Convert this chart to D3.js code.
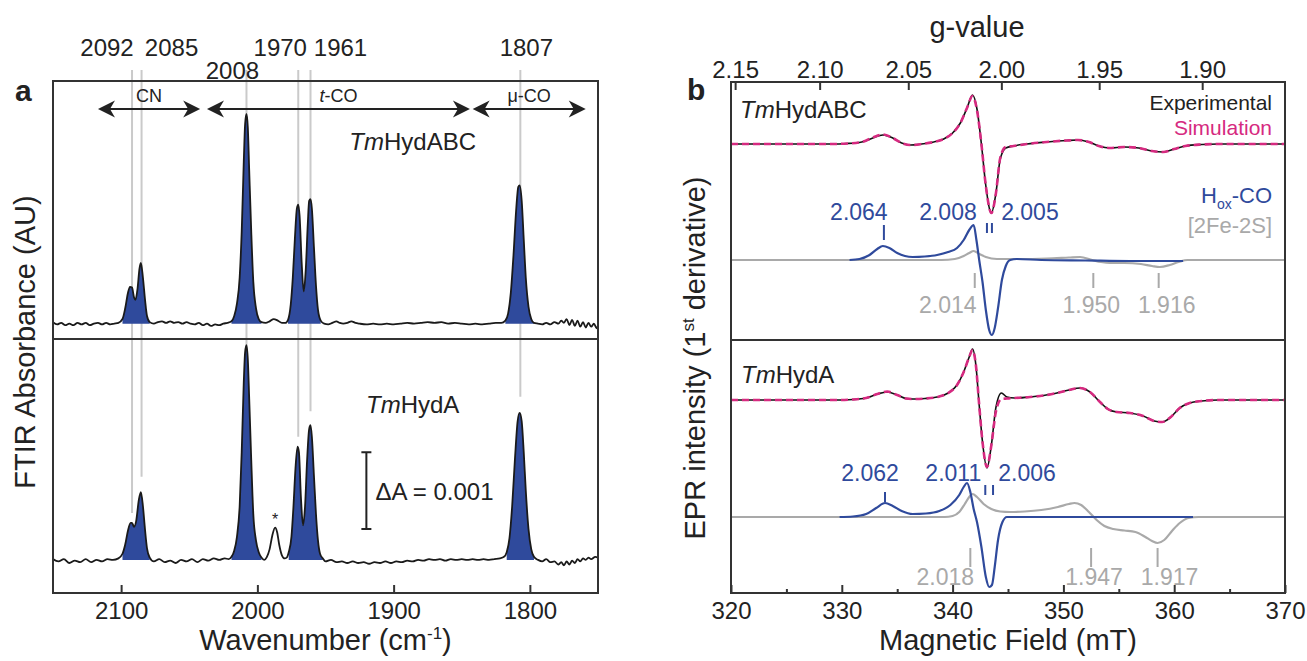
<!DOCTYPE html>
<html>
<head>
<meta charset="utf-8">
<script src="https://cdn.jsdelivr.net/npm/d3@7"></script>
<style>
body { margin: 0; background: #fff; }
text { font-family: "Liberation Sans", Arial, sans-serif; fill: #222; }
</style>
</head>
<body>
<div id="chart"></div>
<script>

// ---------- panel a : FTIR, [wavenumber cm-1, absorbance AU above baseline] ----------
var ftirAbc = [
  [2150,0.00002],[2147,-0.00001],[2144,0.00001],[2141,-0.00002],[2138,0],[2135,-0.00002],[2132,0.00001],
  [2129,-0.00001],[2126,0.00001],[2123,-0.00002],[2120,0],[2117,0.00001],[2114,-0.00001],[2111,0.00001],
  [2108,-0.00001],[2105,0],[2102,0.00001],
  [2099,0.00006],[2097,0.0002],[2095,0.0004],[2093.5,0.00048],[2092,0.00047],[2090.5,0.00034],[2089.5,0.00031],
  [2088,0.00045],[2086.5,0.00072],[2085.5,0.00079],[2084,0.0006],[2082.5,0.00032],[2081,0.0001],[2079,0.00002],
  [2076,0],[2073,0.00002],[2070,0.00003],[2067,0.00001],[2064,0.00003],[2061,0.00001],[2058,0.00002],[2055,0],
  [2052,0.00002],[2049,0],[2046,-0.00001],[2043,0.00001],[2040,-0.00002],[2037,0],[2034,-0.00003],[2031,-0.00001],
  [2028,-0.00002],[2025,0],[2022,0.00001],
  [2019,0.00003],[2017,0.0001],[2015,0.00026],[2013,0.0006],[2011.5,0.0012],[2010,0.0021],[2009,0.0026],
  [2008,0.00273],[2007,0.00255],[2006,0.002],[2004.5,0.0012],[2003,0.00055],[2001,0.0002],[1999,0.00006],[1997,0.00002],
  [1994,0.00001],[1991,0.00003],[1988,0.00006],[1985,0.00004],[1982,0.00001],[1979.5,0.00001],
  [1977.5,0.00005],[1975.5,0.00025],[1974,0.0006],[1972.5,0.0011],[1971,0.0015],[1970,0.00155],[1969,0.0014],
  [1967.5,0.0008],[1966,0.00042],[1964.5,0.0007],[1963,0.0013],[1962,0.0016],[1961,0.00162],[1960,0.0015],
  [1958.5,0.001],[1957,0.0005],[1955.5,0.00018],[1953.5,0.00004],[1951,0],
  [1948,-0.00001],[1945,0.00001],[1942,0.00003],[1939.5,0.00001],[1937,0],[1934,0.00001],[1931,0.00003],[1928,0.00001],
  [1925,0],[1920,-0.00001],[1915,0],[1910,-0.00001],[1905,0],[1900,-0.00001],[1895,0],[1890,0.00001],[1885,0],
  [1880,0.00001],[1875,0.00002],[1870,0.00001],[1865,0.00002],[1860,0],[1855,0.00001],[1850,0],[1845,-0.00001],
  [1840,0],[1835,-0.00001],[1830,0],[1825,0.00001],[1821,0.00001],
  [1818,0.00004],[1816,0.00013],[1814,0.0004],[1812,0.0009],[1810,0.0015],[1808.5,0.00178],[1807.5,0.0018],
  [1806,0.0016],[1804.5,0.0011],[1803,0.0006],[1801,0.00022],[1799,0.00006],[1797,0.00001],
  [1794,0],[1791,-0.00001],[1788,0.00001],[1785,-0.00001],[1782,0.00002],[1779,0],[1777,0.00004],[1775,0.00001],
  [1773,0.00006],[1771,-0.00002],[1769,0.00005],[1767,-0.00003],[1765,0.00004],[1763,-0.00004],[1761,0.00002],
  [1759,-0.00005],[1757,0.00001],[1755,-0.00004],[1753,0],[1751,-0.00006],[1750,-0.00003]
];

var ftirA = [
  [2150,0.00001],[2146,-0.00002],[2142,0.00001],[2138,-0.00004],[2134,-0.00001],[2130,-0.00003],[2126,0.00001],
  [2122,-0.00003],[2118,0],[2114,-0.00002],[2110,0.00001],[2106,0],[2102,0.00002],
  [2099,0.00008],[2097,0.0002],[2095,0.00038],[2093,0.00048],[2092,0.00048],[2090.5,0.00043],[2089,0.0005],
  [2087,0.00078],[2085.5,0.00088],[2084,0.0007],[2082.5,0.0004],[2081,0.00015],[2079,0.00003],
  [2076,-0.00002],[2072,0.00001],[2068,-0.00003],[2064,-0.00001],[2060,-0.00004],[2056,0],[2052,-0.00002],
  [2048,0.00001],[2044,-0.00003],[2040,0.00001],[2036,-0.00001],[2032,0.00002],[2028,0],[2024,0.00002],[2021,0.00001],
  [2019,0.00004],[2017,0.00012],[2015,0.0003],[2013,0.0007],[2011.5,0.0014],[2010,0.0023],[2009,0.0027],
  [2008,0.00279],[2007,0.0026],[2006,0.0021],[2004.5,0.0013],[2003,0.0006],[2001,0.00025],[1999,0.0001],[1997,0.00003],
  [1995,0],[1993,0.00004],[1991,0.00014],[1989,0.00032],[1987,0.00042],[1985.5,0.00036],[1984,0.0002],
  [1982,0.00006],[1980,0.00002],[1978.5,0.00003],
  [1977,0.0001],[1975,0.0003],[1973.5,0.0007],[1972,0.0012],[1970.5,0.00147],[1969.5,0.0014],[1968,0.0008],
  [1966.5,0.00045],[1965,0.0007],[1963.5,0.0013],[1962,0.0017],[1961,0.00175],[1960,0.0016],[1958.5,0.0011],
  [1957,0.0006],[1955.5,0.00025],[1954,0.00008],[1952,0.00002],
  [1950,-0.00002],[1946,0],[1942,-0.00003],[1938,-0.00002],[1934,-0.00004],[1930,-0.00002],[1926,-0.00004],
  [1922,-0.00003],[1918,-0.00005],[1914,-0.00003],[1910,-0.00004],[1906,-0.00002],[1902,-0.00004],[1898,-0.00002],
  [1894,-0.00003],[1890,-0.00001],[1886,-0.00002],[1882,0],[1878,-0.00001],[1874,0.00001],[1870,0],[1866,0.00001],
  [1862,-0.00001],[1858,0.00001],[1854,0],[1850,0.00001],[1846,0],[1842,0.00001],[1838,0],[1834,0.00001],
  [1830,0],[1826,0.00001],[1822,0.00002],[1819,0.00004],
  [1817,0.0001],[1815,0.00028],[1813,0.0007],[1811,0.0013],[1809,0.0018],[1807.5,0.00191],[1806,0.0018],
  [1804.5,0.0014],[1803,0.0009],[1801,0.0004],[1799,0.00014],[1797,0.00004],
  [1794,0],[1791,-0.00002],[1788,0.00001],[1785,-0.00003],[1782,-0.00002],[1779,-0.00006],[1777,-0.00003],
  [1775,-0.00007],[1773,-0.00002],[1771,-0.00006],[1769,-0.00001],[1767,-0.00004],[1765,0.00001],[1763,-0.00002],
  [1761,0.00002],[1759,0],[1757,0.00003],[1755,0.00001],[1752,0.00004],[1750,0.00003]
];

var ftirFillRanges = [[2099, 2079], [2019, 1997], [1977.5, 1952], [1818, 1796]];
var ftirBandMarks = [2092, 2085, 2008, 1970, 1961, 1807];
var ftirBands = [
  { label: 'CN', from: 2117, to: 2042 },
  { label: 't-CO', from: 2037, to: 1844 },
  { label: '\u03bc-CO', from: 1842, to: 1759 }
];
var ftirTicks = [2100, 2000, 1900, 1800];
var ftirStarPeak = 1987;

// ---------- panel b : EPR, [field mT, intensity a.u. above its baseline] ----------
var eprAbcExp = [
  [320,0],[325,0],[329,0],[330.5,0.005],[331.8,0.02],[332.8,0.06],[333.7,0.09],[334.6,0.06],[335.4,0.01],
  [336.2,-0.01],[337.2,0],[338.3,0.02],[339.2,0.05],[340,0.11],[340.7,0.21],[341.3,0.36],[341.8,0.49],
  [342.2,0.35],[342.6,0],[343,-0.42],[343.5,-0.69],[343.9,-0.5],[344.3,-0.15],[344.8,-0.04],[345.5,-0.02],
  [346.7,0],[348.5,0.02],[350.3,0.035],[351.3,0.04],[352.3,0.02],[353.2,-0.02],[354.2,-0.04],[355.5,-0.03],
  [356.8,-0.04],[358,-0.07],[359,-0.08],[360,-0.05],[361,-0.02],[362.5,-0.005],[364,0],[370,0]
];
var eprAbcSim = [
  [320,0],[325,0],[329,0],[330.5,0.005],[331.8,0.02],[332.8,0.065],[333.7,0.095],[334.6,0.06],[335.4,0.01],
  [336.2,-0.01],[337.2,0],[338.3,0.02],[339.2,0.05],[340,0.11],[340.7,0.21],[341.3,0.36],[341.8,0.48],
  [342.2,0.34],[342.6,0],[343,-0.42],[343.5,-0.69],[343.9,-0.5],[344.3,-0.14],[344.8,-0.03],[345.5,-0.02],
  [346.7,0],[348.5,0.02],[350.3,0.035],[351.3,0.04],[352.3,0.02],[353.2,-0.02],[354.2,-0.04],[355.5,-0.03],
  [356.8,-0.04],[358,-0.07],[359,-0.08],[360,-0.05],[361,-0.02],[362.5,-0.005],[364,0],[370,0]
];
var eprAbcHox = [
  [330.7,0],[331.6,0.01],[332.5,0.05],[333.2,0.11],[333.7,0.14],[334.3,0.12],[335,0.07],[335.7,0.04],
  [336.4,0.03],[337.5,0.035],[338.6,0.05],[339.6,0.08],[340.4,0.12],[341,0.2],[341.5,0.3],[341.9,0.35],
  [342.15,0.2],[342.4,0],[342.7,-0.22],[343,-0.5],[343.3,-0.7],[343.55,-0.75],[343.8,-0.68],[344.1,-0.48],
  [344.45,-0.2],[344.8,-0.06],[345.2,0],[345.8,0.01],[348,0],[352,-0.005],[356,-0.01],[360.8,-0.01]
];
var eprAbcFeS = [
  [320,0],[339,0],[340.2,0.01],[341,0.04],[341.5,0.07],[341.9,0.09],[342.4,0.06],[343,0.03],[344,0.01],
  [346,0.01],[348.5,0.015],[350.5,0.025],[351.5,0.03],[352.6,0],[353.4,-0.02],[354.2,-0.03],[355.5,-0.03],
  [357,-0.04],[358,-0.06],[358.7,-0.07],[359.6,-0.05],[360.4,-0.02],[361.2,0],[370,0]
];
var eprAExp = [
  [320,0],[325,0],[329.5,0],[331,0.005],[332.2,0.02],[333.2,0.06],[334.1,0.08],[335,0.05],[335.8,0.015],
  [336.4,0.01],[337.5,0.015],[338.6,0.03],[339.6,0.07],[340.4,0.15],[341,0.28],[341.5,0.43],[341.8,0.51],
  [342.1,0.35],[342.4,-0.05],[342.7,-0.42],[343.1,-0.68],[343.5,-0.45],[343.9,-0.08],[344.4,0.07],[344.9,0.03],
  [345.6,0.02],[347,0.03],[349,0.06],[350.5,0.1],[351.5,0.12],[352.4,0.08],[353.3,-0.02],[354,-0.09],
  [354.8,-0.12],[356,-0.13],[357.2,-0.16],[358.2,-0.21],[358.9,-0.22],[359.7,-0.17],[360.5,-0.08],
  [361.4,-0.03],[362.5,-0.01],[364,0],[370,0]
];
var eprASim = [
  [320,0],[325,0],[329.5,0],[331,0.005],[332.2,0.02],[333.2,0.06],[334.1,0.085],[335,0.05],[335.8,0.015],
  [336.4,0.01],[337.5,0.015],[338.6,0.03],[339.6,0.07],[340.4,0.15],[341,0.28],[341.5,0.43],[341.8,0.5],
  [342.1,0.35],[342.4,-0.05],[342.7,-0.42],[343.1,-0.67],[343.5,-0.45],[343.9,-0.12],[344.4,0.01],[344.9,0.015],
  [345.6,0.02],[347,0.03],[349,0.06],[350.5,0.1],[351.5,0.12],[352.4,0.08],[353.3,-0.02],[354,-0.09],
  [354.8,-0.12],[356,-0.13],[357.2,-0.16],[358.2,-0.21],[358.9,-0.22],[359.7,-0.17],[360.5,-0.08],
  [361.4,-0.03],[362.5,-0.01],[364,0],[370,0]
];
var eprAHox = [
  [329.8,0],[331,0.005],[332.2,0.03],[333.1,0.09],[333.9,0.14],[334.6,0.11],[335.4,0.06],[336.4,0.03],
  [337.6,0.035],[338.8,0.06],[339.8,0.12],[340.6,0.22],[341,0.3],[341.3,0.34],[341.6,0.25],[341.9,0.08],
  [342.2,-0.05],[342.6,-0.3],[343,-0.6],[343.3,-0.7],[343.55,-0.68],[343.8,-0.5],[344.1,-0.23],[344.5,-0.05],
  [344.9,0],[350,0],[361.7,0]
];
var eprAFeS = [
  [320,0],[339.3,0],[340,0.01],[340.6,0.05],[341.1,0.13],[341.5,0.2],[341.8,0.23],[342.2,0.2],[342.8,0.13],
  [343.5,0.08],[344.3,0.055],[345.2,0.05],[346.5,0.055],[348,0.07],[349.5,0.1],[350.5,0.13],[351,0.14],
  [351.6,0.12],[352.3,0.05],[353,-0.03],[353.7,-0.09],[354.5,-0.12],[355.5,-0.135],[356.5,-0.15],[357.4,-0.2],
  [358,-0.24],[358.5,-0.26],[359.1,-0.23],[359.8,-0.14],[360.5,-0.06],[361.3,-0.01],[362.2,0],[370,0]
];

var eprAbcHoxMarks = [{ g: '2.064', B: 333.8 }, { g: '2.008', B: 343.1 }, { g: '2.005', B: 343.55 }];
var eprAbcFeSMarks = [{ g: '2.014', B: 342.0 }, { g: '1.950', B: 352.7 }, { g: '1.916', B: 358.6 }];
var eprAHoxMarks   = [{ g: '2.062', B: 333.9 }, { g: '2.011', B: 342.95 }, { g: '2.006', B: 343.65 }];
var eprAFeSMarks   = [{ g: '2.018', B: 341.6 }, { g: '1.947', B: 352.5 }, { g: '1.917', B: 358.5 }];

var fieldTicks = [320, 330, 340, 350, 360, 370];
var fieldMinorTicks = [325, 335, 345, 355, 365];
var gTicks = [2.15, 2.10, 2.05, 2.00, 1.95, 1.90];
var hnuOverMuB = 688.8; // mT, g = hnu / (muB * B)

// ---------- layout ----------
var W = 1307, H = 661;
var aBox = { left: 53, right: 598, top: 81, mid: 339, bottom: 593 };
var bBox = { left: 731, right: 1285, top: 82, mid: 340, bottom: 593 };
var blue = '#2f4a9c', grey = '#a9a9a9', magenta = '#d62a80', frame = '#333';

var svg = d3.select('#chart')
  .append('svg')
    .attr('width', W)
    .attr('height', H);

// ================= panel a =================
var xA = d3.scaleLinear().domain([2150, 1750]).range([aBox.left, aBox.right]);
var yA1 = d3.scaleLinear().domain([-0.0002, 0.00316]).range([aBox.mid, aBox.top]);
var yA2 = d3.scaleLinear().domain([-0.00043, 0.00287]).range([aBox.bottom, aBox.mid]);

// grey band position lines (end heights in bottom-panel AU)
var markEnds = [0.00061, 0.00108, 0.0027, 0.0016, 0.00193, 0.00212];
svg.append('g').selectAll('line')
  .data(ftirBandMarks)
  .enter().append('line')
    .attr('x1', function(d) { return xA(d); })
    .attr('x2', function(d) { return xA(d); })
    .attr('y1', 70)
    .attr('y2', function(d, i) { return yA2(markEnds[i]); })
    .attr('stroke', '#cacaca')
    .attr('stroke-width', 2);

function drawFtir(data, y) {
  var line = d3.line()
    .x(function(d) { return xA(d[0]); })
    .y(function(d) { return y(d[1]); })
    .curve(d3.curveMonotoneX);
  var area = d3.area()
    .x(function(d) { return xA(d[0]); })
    .y0(y(0))
    .y1(function(d) { return y(Math.max(d[1], 0)); })
    .curve(d3.curveMonotoneX);
  ftirFillRanges.forEach(function(r) {
    var seg = data.filter(function(d) { return d[0] <= r[0] && d[0] >= r[1]; });
    svg.append('path').attr('d', area(seg)).attr('fill', blue);
  });
  svg.append('path')
    .attr('d', line(data))
    .attr('fill', 'none')
    .attr('stroke', '#1a1a1a')
    .attr('stroke-width', 1.8);
}
drawFtir(ftirAbc, yA1);
drawFtir(ftirA, yA2);

// frame + divider
svg.append('rect')
  .attr('x', aBox.left).attr('y', aBox.top)
  .attr('width', aBox.right - aBox.left).attr('height', aBox.bottom - aBox.top)
  .attr('fill', 'none').attr('stroke', frame).attr('stroke-width', 2);
svg.append('line')
  .attr('x1', aBox.left).attr('x2', aBox.right)
  .attr('y1', aBox.mid).attr('y2', aBox.mid)
  .attr('stroke', frame).attr('stroke-width', 2);

// bottom axis
var axA = svg.append('g')
  .attr('transform', 'translate(0,' + aBox.bottom + ')')
  .call(d3.axisBottom(xA).tickValues(ftirTicks).tickFormat(d3.format('d'))
    .tickSizeInner(-8).tickSizeOuter(0).tickPadding(9));
axA.select('.domain').remove();
axA.selectAll('line').attr('stroke', frame).attr('stroke-width', 2);
axA.selectAll('text').attr('font-size', 24).attr('fill', '#222');

// peak position labels
var markLabelDx = [-25, 30, -14, -18, 30, 6];
var markLabelY = [56, 56, 79, 56, 56, 56];
svg.append('g').selectAll('text')
  .data(ftirBandMarks)
  .enter().append('text')
    .attr('x', function(d, i) { return xA(d) + markLabelDx[i]; })
    .attr('y', function(d, i) { return markLabelY[i]; })
    .attr('text-anchor', 'middle')
    .attr('font-size', 24)
    .text(function(d) { return d; });

// band arrows
function arrowHead(x, y, dir) {
  // dir = -1 points left, +1 points right
  var L = 17, Wd = 8.5, N = 12;
  return 'M' + x + ',' + y +
    'L' + (x - dir * L) + ',' + (y - Wd) +
    'L' + (x - dir * N) + ',' + y +
    'L' + (x - dir * L) + ',' + (y + Wd) + 'Z';
}
var arrowY = 109;
ftirBands.forEach(function(b) {
  var x1 = xA(b.from), x2 = xA(b.to);
  svg.append('line')
    .attr('x1', x1 + 10).attr('x2', x2 - 10)
    .attr('y1', arrowY).attr('y2', arrowY)
    .attr('stroke', '#222').attr('stroke-width', 2);
  svg.append('path').attr('d', arrowHead(x1, arrowY, -1)).attr('fill', '#222');
  svg.append('path').attr('d', arrowHead(x2, arrowY, 1)).attr('fill', '#222');
  var t = svg.append('text')
    .attr('x', (x1 + x2) / 2)
    .attr('y', 102)
    .attr('text-anchor', 'middle')
    .attr('font-size', 18);
  if (b.label === 't-CO') {
    t.append('tspan').attr('font-style', 'italic').text('t');
    t.append('tspan').text('-CO');
  } else {
    t.text(b.label);
  }
});

// sample labels
function tmLabel(x, y, rest, anchor) {
  var t = svg.append('text')
    .attr('x', x).attr('y', y)
    .attr('font-size', 24)
    .attr('text-anchor', anchor || 'start');
  t.append('tspan').attr('font-style', 'italic').text('Tm');
  t.append('tspan').text(rest);
}
tmLabel(xA(1886), 150, 'HydABC', 'middle');
tmLabel(xA(1886), 413, 'HydA', 'middle');

// star on the unassigned peak
svg.append('text')
  .attr('x', xA(ftirStarPeak))
  .attr('y', yA2(0.00042) - 3)
  .attr('text-anchor', 'middle')
  .attr('font-size', 16)
  .text('*');

// scale bar
var barX = xA(1920);
var barLo = yA2(0.0004), barHi = yA2(0.0014);
svg.append('path')
  .attr('d', 'M' + (barX - 5) + ',' + barHi + 'H' + (barX + 5) +
             'M' + barX + ',' + barHi + 'V' + barLo +
             'M' + (barX - 5) + ',' + barLo + 'H' + (barX + 5))
  .attr('stroke', '#222').attr('stroke-width', 2).attr('fill', 'none');
svg.append('text')
  .attr('x', barX + 9)
  .attr('y', (barLo + barHi) / 2 + 9)
  .attr('font-size', 24)
  .text('\u0394A = 0.001');

// titles
svg.append('text')
  .attr('x', 15).attr('y', 101)
  .attr('font-size', 30).attr('font-weight', 'bold')
  .text('a');
var xtA = svg.append('text')
  .attr('x', (aBox.left + aBox.right) / 2).attr('y', 650)
  .attr('text-anchor', 'middle')
  .attr('font-size', 29);
xtA.append('tspan').text('Wavenumber (cm');
xtA.append('tspan').attr('font-size', 17).attr('dy', -11).text('-1');
xtA.append('tspan').attr('dy', 11).text(')');
svg.append('text')
  .attr('transform', 'translate(35,' + 342 + ')rotate(-90)')
  .attr('text-anchor', 'middle')
  .attr('font-size', 29)
  .text('FTIR Absorbance (AU)');

// ================= panel b =================
var xB = d3.scaleLinear().domain([320, 370]).range([bBox.left, bBox.right]);
var yB1 = d3.scaleLinear().domain([0, 2.58]).range([bBox.mid, bBox.top]);
var yB2 = d3.scaleLinear().domain([0, 2.53]).range([bBox.bottom, bBox.mid]);
var offAbcExp = 1.96, offAbcSub = 0.80, offAExp = 1.93, offASub = 0.76;

function eprPath(data, y, off, color, width, dash) {
  var line = d3.line()
    .x(function(d) { return xB(d[0]); })
    .y(function(d) { return y(d[1] + off); })
    .curve(d3.curveMonotoneX);
  var p = svg.append('path')
    .attr('d', line(data))
    .attr('fill', 'none')
    .attr('stroke', color)
    .attr('stroke-width', width)
    .attr('stroke-linejoin', 'round');
  if (dash) p.attr('stroke-dasharray', dash);
}

eprPath(eprAbcFeS, yB1, offAbcSub, grey, 2.2);
eprPath(eprAbcHox, yB1, offAbcSub, blue, 2.2);
eprPath(eprAbcExp, yB1, offAbcExp, '#111', 1.6);
eprPath(eprAbcSim, yB1, offAbcExp, magenta, 2.6, '7,4');

eprPath(eprAFeS, yB2, offASub, grey, 2.2);
eprPath(eprAHox, yB2, offASub, blue, 2.2);
eprPath(eprAExp, yB2, offAExp, '#111', 1.6);
eprPath(eprASim, yB2, offAExp, magenta, 2.6, '7,4');

// g-value annotation marks: tick span (a.u. above sub baseline), label offset
function gMarks(marks, y, off, color, ticks, labelDx, labelY) {
  marks.forEach(function(m, i) {
    var x = xB(m.B);
    svg.append('line')
      .attr('x1', x).attr('x2', x)
      .attr('y1', y(off + ticks[i][0])).attr('y2', y(off + ticks[i][1]))
      .attr('stroke', color).attr('stroke-width', 2);
    svg.append('text')
      .attr('x', x + labelDx[i])
      .attr('y', y(off + labelY) + 8)
      .attr('text-anchor', 'middle')
      .attr('font-size', 23)
      .style('fill', color)
      .text(m.g);
  });
}
gMarks(eprAbcHoxMarks, yB1, offAbcSub, blue,
  [[0.20, 0.35], [0.27, 0.37], [0.27, 0.37]], [-25, -39, 38], 0.48);
gMarks(eprAbcFeSMarks, yB1, offAbcSub, grey,
  [[-0.13, -0.28], [-0.13, -0.28], [-0.13, -0.28]], [-27, -2, 8], -0.45);
gMarks(eprAHoxMarks, yB2, offASub, blue,
  [[0.15, 0.25], [0.22, 0.32], [0.22, 0.32]], [-15, -32, 34], 0.44);
gMarks(eprAFeSMarks, yB2, offASub, grey,
  [[-0.31, -0.50], [-0.31, -0.50], [-0.31, -0.50]], [-25, 3, 12], -0.60);

// frame + divider
svg.append('rect')
  .attr('x', bBox.left).attr('y', bBox.top)
  .attr('width', bBox.right - bBox.left).attr('height', bBox.bottom - bBox.top)
  .attr('fill', 'none').attr('stroke', frame).attr('stroke-width', 2);
svg.append('line')
  .attr('x1', bBox.left).attr('x2', bBox.right)
  .attr('y1', bBox.mid).attr('y2', bBox.mid)
  .attr('stroke', frame).attr('stroke-width', 2);

// bottom field axis
var axB = svg.append('g')
  .attr('transform', 'translate(0,' + bBox.bottom + ')')
  .call(d3.axisBottom(xB).tickValues(fieldTicks).tickSizeInner(-8).tickSizeOuter(0).tickPadding(9));
axB.select('.domain').remove();
axB.selectAll('line').attr('stroke', frame).attr('stroke-width', 2);
axB.selectAll('text').attr('font-size', 24).attr('fill', '#222');
var axBm = svg.append('g')
  .attr('transform', 'translate(0,' + bBox.bottom + ')')
  .call(d3.axisBottom(xB).tickValues(fieldMinorTicks).tickSizeInner(-4).tickSizeOuter(0).tickFormat(''));
axBm.select('.domain').remove();
axBm.selectAll('line').attr('stroke', frame).attr('stroke-width', 2);

// top g-value axis
var axG = svg.append('g')
  .attr('transform', 'translate(0,' + bBox.top + ')')
  .call(d3.axisTop(xB)
    .tickValues(gTicks.map(function(g) { return hnuOverMuB / g; }))
    .tickFormat(function(d, i) { return gTicks[i].toFixed(2); })
    .tickSizeInner(-8).tickSizeOuter(0).tickPadding(4));
axG.select('.domain').remove();
axG.selectAll('line').attr('stroke', frame).attr('stroke-width', 2);
axG.selectAll('text').attr('font-size', 24).attr('fill', '#222');

// labels and legend
tmLabel(bBox.left + 9, 118, 'HydABC');
tmLabel(bBox.left + 10, 383, 'HydA');

svg.append('text').attr('x', 1272).attr('y', 110).attr('text-anchor', 'end')
  .attr('font-size', 21).text('Experimental');
svg.append('text').attr('x', 1272).attr('y', 135).attr('text-anchor', 'end')
  .attr('font-size', 21).style('fill', magenta).text('Simulation');
var hox = svg.append('text').attr('x', 1272).attr('y', 203).attr('text-anchor', 'end')
  .attr('font-size', 22).style('fill', blue);
hox.append('tspan').text('H');
hox.append('tspan').attr('font-size', 14).attr('dy', 6).text('ox');
hox.append('tspan').attr('dy', -6).text('-CO');
svg.append('text').attr('x', 1272).attr('y', 233).attr('text-anchor', 'end')
  .attr('font-size', 22).style('fill', grey).text('[2Fe-2S]');

svg.append('text')
  .attr('x', 687).attr('y', 100)
  .attr('font-size', 30).attr('font-weight', 'bold')
  .text('b');
svg.append('text')
  .attr('x', 977).attr('y', 37)
  .attr('text-anchor', 'middle')
  .attr('font-size', 29)
  .text('g-value');
svg.append('text')
  .attr('x', (bBox.left + bBox.right) / 2).attr('y', 650)
  .attr('text-anchor', 'middle')
  .attr('font-size', 29)
  .text('Magnetic Field (mT)');
var ytB = svg.append('text')
  .attr('transform', 'translate(705,' + 358 + ')rotate(-90)')
  .attr('text-anchor', 'middle')
  .attr('font-size', 29);
ytB.append('tspan').text('EPR intensity (1');
ytB.append('tspan').attr('font-size', 17).attr('dy', -11).text('st');
ytB.append('tspan').attr('dy', 11).text(' derivative)');

</script>
</body>
</html>
